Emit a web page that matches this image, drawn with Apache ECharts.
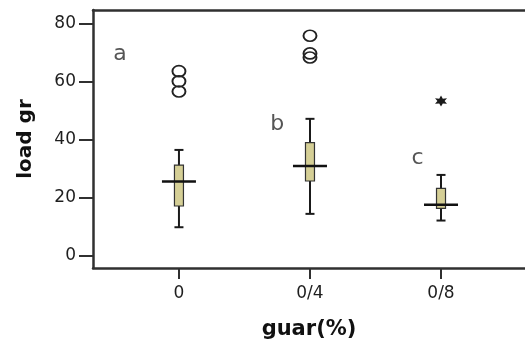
<!DOCTYPE html>
<html>
<head>
<meta charset="utf-8">
<script src="https://cdn.jsdelivr.net/npm/echarts@6/dist/echarts.min.js"></script>
<style>
html,body{margin:0;padding:0;background:#fff;}
#chart{width:525px;height:348px;}
</style>
</head>
<body>
<div id="chart"></div>
<script>
// ---- data ----
var categories = ['0', '0/4', '0/8'];
var whiskerLow  = [9.9, 14.5, 12.2];
var q1          = [17.2, 25.8, 16.4];
var median      = [25.6, 31.0, 17.6];
var q3          = [31.3, 39.0, 23.3];
var whiskerHigh = [36.5, 47.2, 27.9];
var outlierCat  = [0, 0, 0, 1, 1, 1];
var outlierVal  = [63.6, 60.1, 56.6, 75.8, 69.7, 68.3];
var extremeCat  = [2];
var extremeVal  = [53.3];
var letterText  = ['a', 'b', 'c'];
var letterX     = [-0.45, 0.75, 1.82];
var letterY     = [69.5, 45.4, 33.6];
var yTicks      = [0, 20, 40, 60, 80];
var xTicks      = [0, 1, 2];

var FONT = 'DejaVu Sans';
var INK = '#303030';

var boxData = categories.map(function (c, i) {
  return [i, whiskerLow[i], q1[i], median[i], q3[i], whiskerHigh[i]];
});
var outlierData = outlierCat.map(function (c, i) { return [c, outlierVal[i]]; });
var extremeData = extremeCat.map(function (c, i) { return [c, extremeVal[i]]; });
var letterData = letterText.map(function (t, i) { return { name: t, value: [letterX[i], letterY[i]] }; });

function renderBox(params, api) {
  var x = api.value(0);
  var pLow = api.coord([x, api.value(1)]);
  var pQ1 = api.coord([x, api.value(2)]);
  var pMed = api.coord([x, api.value(3)]);
  var pQ3 = api.coord([x, api.value(4)]);
  var pHigh = api.coord([x, api.value(5)]);
  var cx = pMed[0];
  var boxW = 9, capW = 9, medW = 34;
  var line = { stroke: '#1a1a1a', lineWidth: 2 };
  return {
    type: 'group',
    children: [
      { type: 'line', shape: { x1: cx, y1: pLow[1], x2: cx, y2: pHigh[1] }, style: line },
      { type: 'line', shape: { x1: cx - capW / 2, y1: pLow[1], x2: cx + capW / 2, y2: pLow[1] }, style: line },
      { type: 'line', shape: { x1: cx - capW / 2, y1: pHigh[1], x2: cx + capW / 2, y2: pHigh[1] }, style: line },
      { type: 'rect', shape: { x: cx - boxW / 2, y: pQ3[1], width: boxW, height: pQ1[1] - pQ3[1] },
        style: { fill: '#d5cf96', stroke: '#333', lineWidth: 1.2 } },
      { type: 'line', shape: { x1: cx - medW / 2, y1: pMed[1], x2: cx + medW / 2, y2: pMed[1] },
        style: { stroke: '#111', lineWidth: 2.5 } }
    ]
  };
}

var chart = echarts.init(document.getElementById('chart'), null, { renderer: 'canvas' });
chart.setOption({
  animation: false,
  backgroundColor: '#fff',
  grid: { left: 93, top: 10, right: 0, bottom: 80 },
  xAxis: [{
    type: 'value', min: -0.656, max: 2.641,
    position: 'bottom',
    axisLine: { show: true, onZero: false, lineStyle: { color: INK, width: 2.5 } },
    axisTick: { show: true, customValues: xTicks, length: 11, lineStyle: { color: INK, width: 2 } },
    axisLabel: { show: true, customValues: xTicks, margin: 17, color: '#1e1e1e',
      fontFamily: FONT, fontSize: 17,
      formatter: function (v) { return categories[Math.round(v)] || ''; } },
    splitLine: { show: false },
    name: 'guar(%)', nameLocation: 'middle', nameGap: 51,
    nameTextStyle: { fontFamily: FONT, fontSize: 21, fontWeight: 'bold', color: '#111' }
  }, {
    type: 'value', min: -0.656, max: 2.641, position: 'top',
    axisLine: { show: true, onZero: false, lineStyle: { color: INK, width: 2.5 } },
    axisTick: { show: false }, axisLabel: { show: false }, splitLine: { show: false }
  }],
  yAxis: [{
    type: 'value', min: -4.13, max: 84.65,
    position: 'left',
    axisLine: { show: true, onZero: false, lineStyle: { color: INK, width: 2.5 } },
    axisTick: { show: true, customValues: yTicks, length: 14, lineStyle: { color: INK, width: 2 } },
    axisLabel: { show: true, customValues: yTicks, margin: 17, color: '#1e1e1e',
      fontFamily: FONT, fontSize: 17 },
    splitLine: { show: false },
    name: 'load gr', nameLocation: 'middle', nameGap: 57,
    nameTextStyle: { fontFamily: FONT, fontSize: 20, fontWeight: 'bold', color: '#111' }
  }],
  series: [{
    type: 'custom',
    renderItem: renderBox,
    data: boxData,
    encode: { x: 0, y: [1, 2, 3, 4, 5] },
    z: 3
  }, {
    type: 'scatter',
    data: outlierData,
    symbol: 'circle',
    symbolSize: [13, 11],
    itemStyle: { color: 'rgba(0,0,0,0)', borderColor: '#222', borderWidth: 1.8, opacity: 1 },
    z: 4
  }, {
    type: 'scatter',
    data: extremeData,
    symbol: 'path://M0,-10 L2.6,-4.5 L8.7,-5 L5.2,0 L8.7,5 L2.6,4.5 L0,10 L-2.6,4.5 L-8.7,5 L-5.2,0 L-8.7,-5 L-2.6,-4.5 Z',
    symbolSize: [12, 11],
    itemStyle: { color: '#1a1a1a', opacity: 1 },
    z: 4
  }, {
    type: 'scatter',
    data: letterData,
    symbolSize: 0,
    label: { show: true, position: 'inside', formatter: '{b}', color: '#2a2a2a',
      fontFamily: FONT, fontSize: 22 },
    z: 5
  }]
});
</script>
</body>
</html>
